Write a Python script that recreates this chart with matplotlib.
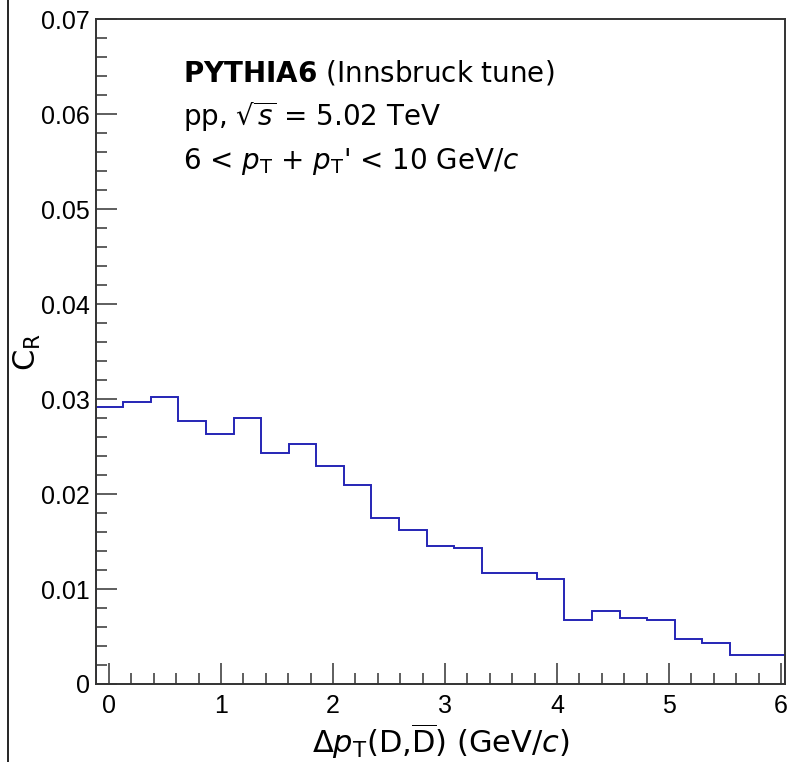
import numpy as np
import matplotlib
matplotlib.use("Agg")
import matplotlib.pyplot as plt
from matplotlib.lines import Line2D
from matplotlib.ticker import MultipleLocator

# === Donnees ===
x_min = -0.118
x_max = 6.036
nb_bins = 25
cr_valeurs = [0.0292, 0.0297, 0.0302, 0.0277, 0.0263, 0.0280, 0.0243, 0.0253,
              0.0230, 0.0210, 0.0175, 0.0162, 0.0145, 0.0143, 0.0117, 0.0117,
              0.0111, 0.0067, 0.0077, 0.0070, 0.0067, 0.0047, 0.0043, 0.0031,
              0.0031]
y_ticks = [0, 0.01, 0.02, 0.03, 0.04, 0.05, 0.06, 0.07]
y_labels = ["0", "0.01", "0.02", "0.03", "0.04", "0.05", "0.06", "0.07"]
x_ticks = [0, 1, 2, 3, 4, 5, 6]

# === Style ===
plt.rcParams['font.family'] = ['Liberation Sans', 'DejaVu Sans']
plt.rcParams['mathtext.fontset'] = 'dejavusans'
texte_font = 'DejaVu Sans'

fig = plt.figure(figsize=(7.89, 7.62), dpi=100)
ax = fig.add_axes([0.1213, 0.1024, 0.9949 - 0.1213, 0.9747 - 0.1024])

edges = np.linspace(x_min, x_max, nb_bins + 1)
ax.stairs(cr_valeurs, edges, color='#2525b5', linewidth=1.4)

ax.set_xlim(x_min, x_max)
ax.set_ylim(0, 0.07)
ax.set_yticks(y_ticks)
ax.set_yticklabels(y_labels)
ax.set_xticks(x_ticks)
ax.xaxis.set_minor_locator(MultipleLocator(0.2))
ax.yaxis.set_minor_locator(MultipleLocator(0.002))

ax.tick_params(which='both', direction='in', top=False, right=False,
               color='#333333', width=1.1, labelsize=18)
ax.tick_params(which='major', length=15)
ax.tick_params(which='minor', length=8)
ax.tick_params(axis='y', pad=4)
ax.tick_params(axis='x', pad=7)
for s in ax.spines.values():
    s.set_linewidth(1.4)
    s.set_color('#333333')

ax.set_xlabel(r"$\Delta p_{\rm T}$(D,$\overline{\rm D}$) (GeV/$c$)", fontsize=22,
              fontfamily=texte_font)
ax.xaxis.label.set_va('baseline')
ax.xaxis.set_label_coords(0.501, -0.1038)
ax.set_ylabel(r"C$_{\rm R}$", fontsize=22, fontfamily=texte_font)
ax.yaxis.set_label_coords(-0.076, 0.50)

# === Texte ===
ax.text(0.126, 0.906, r"$\bf{PYTHIA6}$ (Innsbruck tune)", transform=ax.transAxes,
        fontsize=20, va='baseline', fontfamily=texte_font)
ax.text(0.126, 0.839, r"pp, $\sqrt{s}$ = 5.02 TeV", transform=ax.transAxes,
        fontsize=20, va='baseline', fontfamily=texte_font)
ax.text(0.126, 0.775, r"6 < $p_{\rm T}$ + $p_{\rm T}$' < 10 GeV/$c$", transform=ax.transAxes,
        fontsize=20, va='baseline', fontfamily=texte_font)

# bord du canvas
fig.add_artist(Line2D([8 / 789, 8 / 789], [0, 1], transform=fig.transFigure,
                      color='black', linewidth=1.2))

fig.savefig("out.png", dpi=100)
